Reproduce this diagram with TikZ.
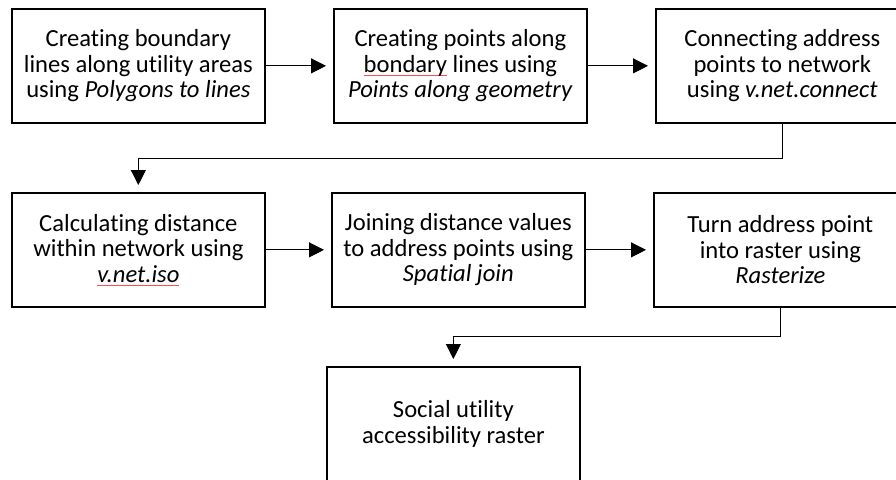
\documentclass[tikz,border=0pt]{standalone}
\usepackage{fontspec}
\setmainfont{Carlito}[Ligatures=NoCommon]
\usetikzlibrary{arrows.meta}
% light red spell-check style underline
\newsavebox\spellbox
\newcommand\spellmark[1]{\sbox\spellbox{#1}\rlap{\textcolor{red!70!white}{\rule[-3.6pt]{\wd\spellbox}{0.6pt}}}\usebox\spellbox}
\begin{document}
\begin{tikzpicture}[x=1pt,y=-1pt,
  stepbox/.style={draw, line width=1.7pt, minimum width=253pt, minimum height=114pt,
    inner sep=0pt, align=center, anchor=north west,
    font=\fontsize{24.6}{25.5}\selectfont},
  flow/.style={line width=0.9pt, -{Triangle[length=15pt,width=15pt]}, shorten >=7pt}]
\clip (0,0) rectangle (896,479);
\fill[white] (0,0) rectangle (896,479);

% first row
\node[stepbox] (b1) at (11,8)  {Creating boundary\\lines along utility areas\\using \textit{Polygons to lines}};
\node[stepbox] (b2) at (333,8) {Creating points along\\\spellmark{bondary} lines using\\\textit{Points along geometry}};
\node[stepbox] (b3) at (655,8) {Connecting address\\points to network\\using \textit{v.net.connect}};

% second row
\node[stepbox] (b4) at (11,192)  {Calculating distance\\within network using\\\spellmark{\textit{v.net.iso}}};
\node[stepbox] (b5) at (331,192) {Joining distance values\\to address points using\\\textit{Spatial join}};
\node[stepbox] (b6) at (653,192) {Turn address point\\into raster using\\\textit{Rasterize}};

% result
\node[stepbox] (b7) at (326,366) {Social utility\\accessibility raster};

% connectors
\draw[flow] (b1.east) -- (b2.west);
\draw[flow] (b2.east) -- (b3.west);
\draw[flow] (b3.south) -- ++(0,35) -| (b4.north);
\draw[flow] (b4.east) -- (b5.west);
\draw[flow] (b5.east) -- (b6.west);
\draw[flow] (b6.south) -- ++(0,29) -| (b7.north);
\end{tikzpicture}
\end{document}
